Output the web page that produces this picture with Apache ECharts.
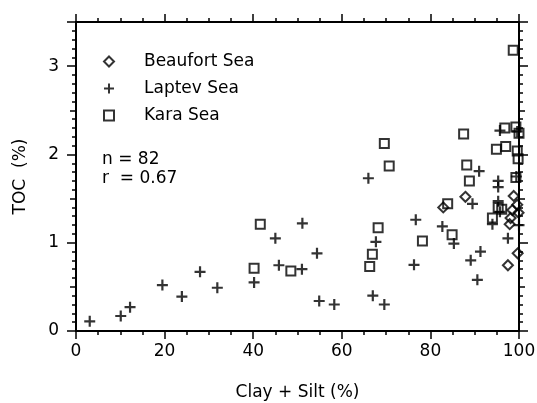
<!DOCTYPE html>
<html><head><meta charset="utf-8">
<script src="https://cdn.jsdelivr.net/npm/echarts@6/dist/echarts.min.js"></script>
<style>html,body{margin:0;padding:0;background:#fff}#c{width:537px;height:403px}</style>
</head><body><div id="c"></div>
<script>
const seriesNames = ['Beaufort Sea', 'Laptev Sea', 'Kara Sea'];
const beaufort = [[82.9,1.40],[87.9,1.52],[98.8,1.53],[99.6,1.43],[98.5,1.37],[99.9,1.34],[98.1,1.28],[97.9,1.21],[99.7,0.88],[97.5,0.745]];
const laptev = [[3.1,0.11],[10.1,0.17],[12.2,0.27],[19.5,0.52],[23.9,0.39],[28.0,0.67],[31.9,0.49],[40.2,0.55],
  [45.0,1.05],[45.8,0.745],[51.1,1.22],[51.0,0.70],[54.4,0.88],[54.9,0.34],[58.3,0.30],[66.0,1.73],[67.7,1.01],
  [67.0,0.40],[69.6,0.30],[76.7,1.26],[76.3,0.75],[82.7,1.185],[85.3,0.99],[89.1,0.80],[91.3,0.90],[90.6,0.58],
  [97.5,1.05],[94.0,1.21],[89.5,1.44],[91.0,1.81],[95.3,1.70],[95.3,1.63],[95.3,1.47],[95.7,1.35],[95.7,2.27],
  [99.6,2.26],[100,1.20],[99.4,1.75]];
const kara = [[40.2,0.71],[41.6,1.21],[48.5,0.68],[66.3,0.73],[66.9,0.87],[68.2,1.17],[69.6,2.125],[70.7,1.87],
  [78.2,1.02],[83.9,1.44],[84.9,1.09],[87.5,2.23],[88.2,1.88],[88.8,1.70],[94.0,1.28],[95.3,1.40],[96.1,1.38],
  [94.9,2.06],[97.0,2.09],[96.8,2.30],[99.3,2.31],[100,2.24],[99.6,2.04],[99.8,1.95],[99.3,1.74],[98.7,3.18]];
const statsLines = ['n = 82', 'r  = 0.67'];
const xMin = 0, xMax = 100, xStep = 20;
const yMin = 0, yMax = 3.5, yStep = 1;
const xTitle = 'Clay + Silt (%)';
const yTitle = 'TOC  (%)';

const FONT = 'DejaVu Sans';
const BLACK = '#000';
const chart = echarts.init(document.getElementById('c'), null, {renderer: 'canvas'});

function xAx(pos, show) {
  return {
    type: 'value', min: xMin, max: xMax, interval: xStep, position: pos,
    axisLine: {show: true, onZero: false, lineStyle: {color: BLACK, width: 2}},
    axisTick: {show: true, inside: false, length: 8, lineStyle: {color: BLACK, width: 1.5}},
    minorTick: {show: true, splitNumber: 4, length: 4, lineStyle: {color: BLACK, width: 1.5}},
    splitLine: {show: false}, minorSplitLine: {show: false},
    axisLabel: {show: show, fontFamily: FONT, fontSize: 17, color: BLACK, margin: 12},
    name: show ? xTitle : '', nameLocation: 'middle', nameGap: 53,
    nameTextStyle: {fontFamily: FONT, fontSize: 17, color: BLACK}
  };
}
function yAx(pos, interval, tickLen, line, labels) {
  return {
    type: 'value', min: yMin, max: yMax, interval: interval, position: pos,
    axisLine: {show: line, onZero: false, lineStyle: {color: BLACK, width: 2}},
    axisTick: {show: true, inside: false, length: tickLen, lineStyle: {color: BLACK, width: 1.5}},
    splitLine: {show: false},
    axisLabel: {show: labels, fontFamily: FONT, fontSize: 17, color: BLACK, margin: 17,
      formatter: v => (Math.abs(v - Math.round(v)) < 1e-9 ? String(Math.round(v)) : '')},
    name: labels ? yTitle : '', nameLocation: 'middle', nameGap: 47, nameRotate: 90,
    nameTextStyle: {fontFamily: FONT, fontSize: 17, color: BLACK}
  };
}

const plusPath = 'path://M4,0H6V4H10V6H6V10H4V6H0V4H4Z';
const diamondPath = 'path://M5,0L10,5L5,10L0,5Z';
const squarePath = 'path://M0,0H10V10H0Z';

chart.setOption({
  animation: false,
  backgroundColor: '#fff',
  grid: {left: 76, top: 22, width: 443, height: 309, containLabel: false, outerBoundsMode: 'none'},
  xAxis: [xAx('bottom', true), xAx('top', false)],
  yAxis: [
    yAx('left', yStep, 9, true, true),
    yAx('left', 0.5, 6, false, false),
    yAx('left', 0.1, 4, false, false),
    yAx('right', yStep, 9, true, false),
    yAx('right', 0.5, 6, false, false),
    yAx('right', 0.1, 4, false, false)
  ],
  legend: {
    data: seriesNames, orient: 'vertical', left: 98, top: 48,
    itemWidth: 10, itemHeight: 10, itemGap: 10, padding: 5,
    textStyle: {fontFamily: FONT, fontSize: 17, color: BLACK, padding: [0, 0, 0, 25]}
  },
  graphic: statsLines.map((t, i) => ({
    type: 'text', left: 102, top: 151 + i * 19,
    style: {text: t, fontFamily: FONT, fontSize: 17, fill: BLACK}
  })),
  series: [
    {name: seriesNames[0], type: 'scatter', data: beaufort, symbol: diamondPath, symbolSize: 10,
      itemStyle: {color: 'rgba(0,0,0,0)', borderColor: BLACK, borderWidth: 2}},
    {name: seriesNames[1], type: 'scatter', data: laptev, symbol: plusPath, symbolSize: 11,
      itemStyle: {color: BLACK}},
    {name: seriesNames[2], type: 'scatter', data: kara, symbol: squarePath, symbolSize: 9,
      itemStyle: {color: 'rgba(0,0,0,0)', borderColor: BLACK, borderWidth: 2}}
  ]
});
</script></body></html>
